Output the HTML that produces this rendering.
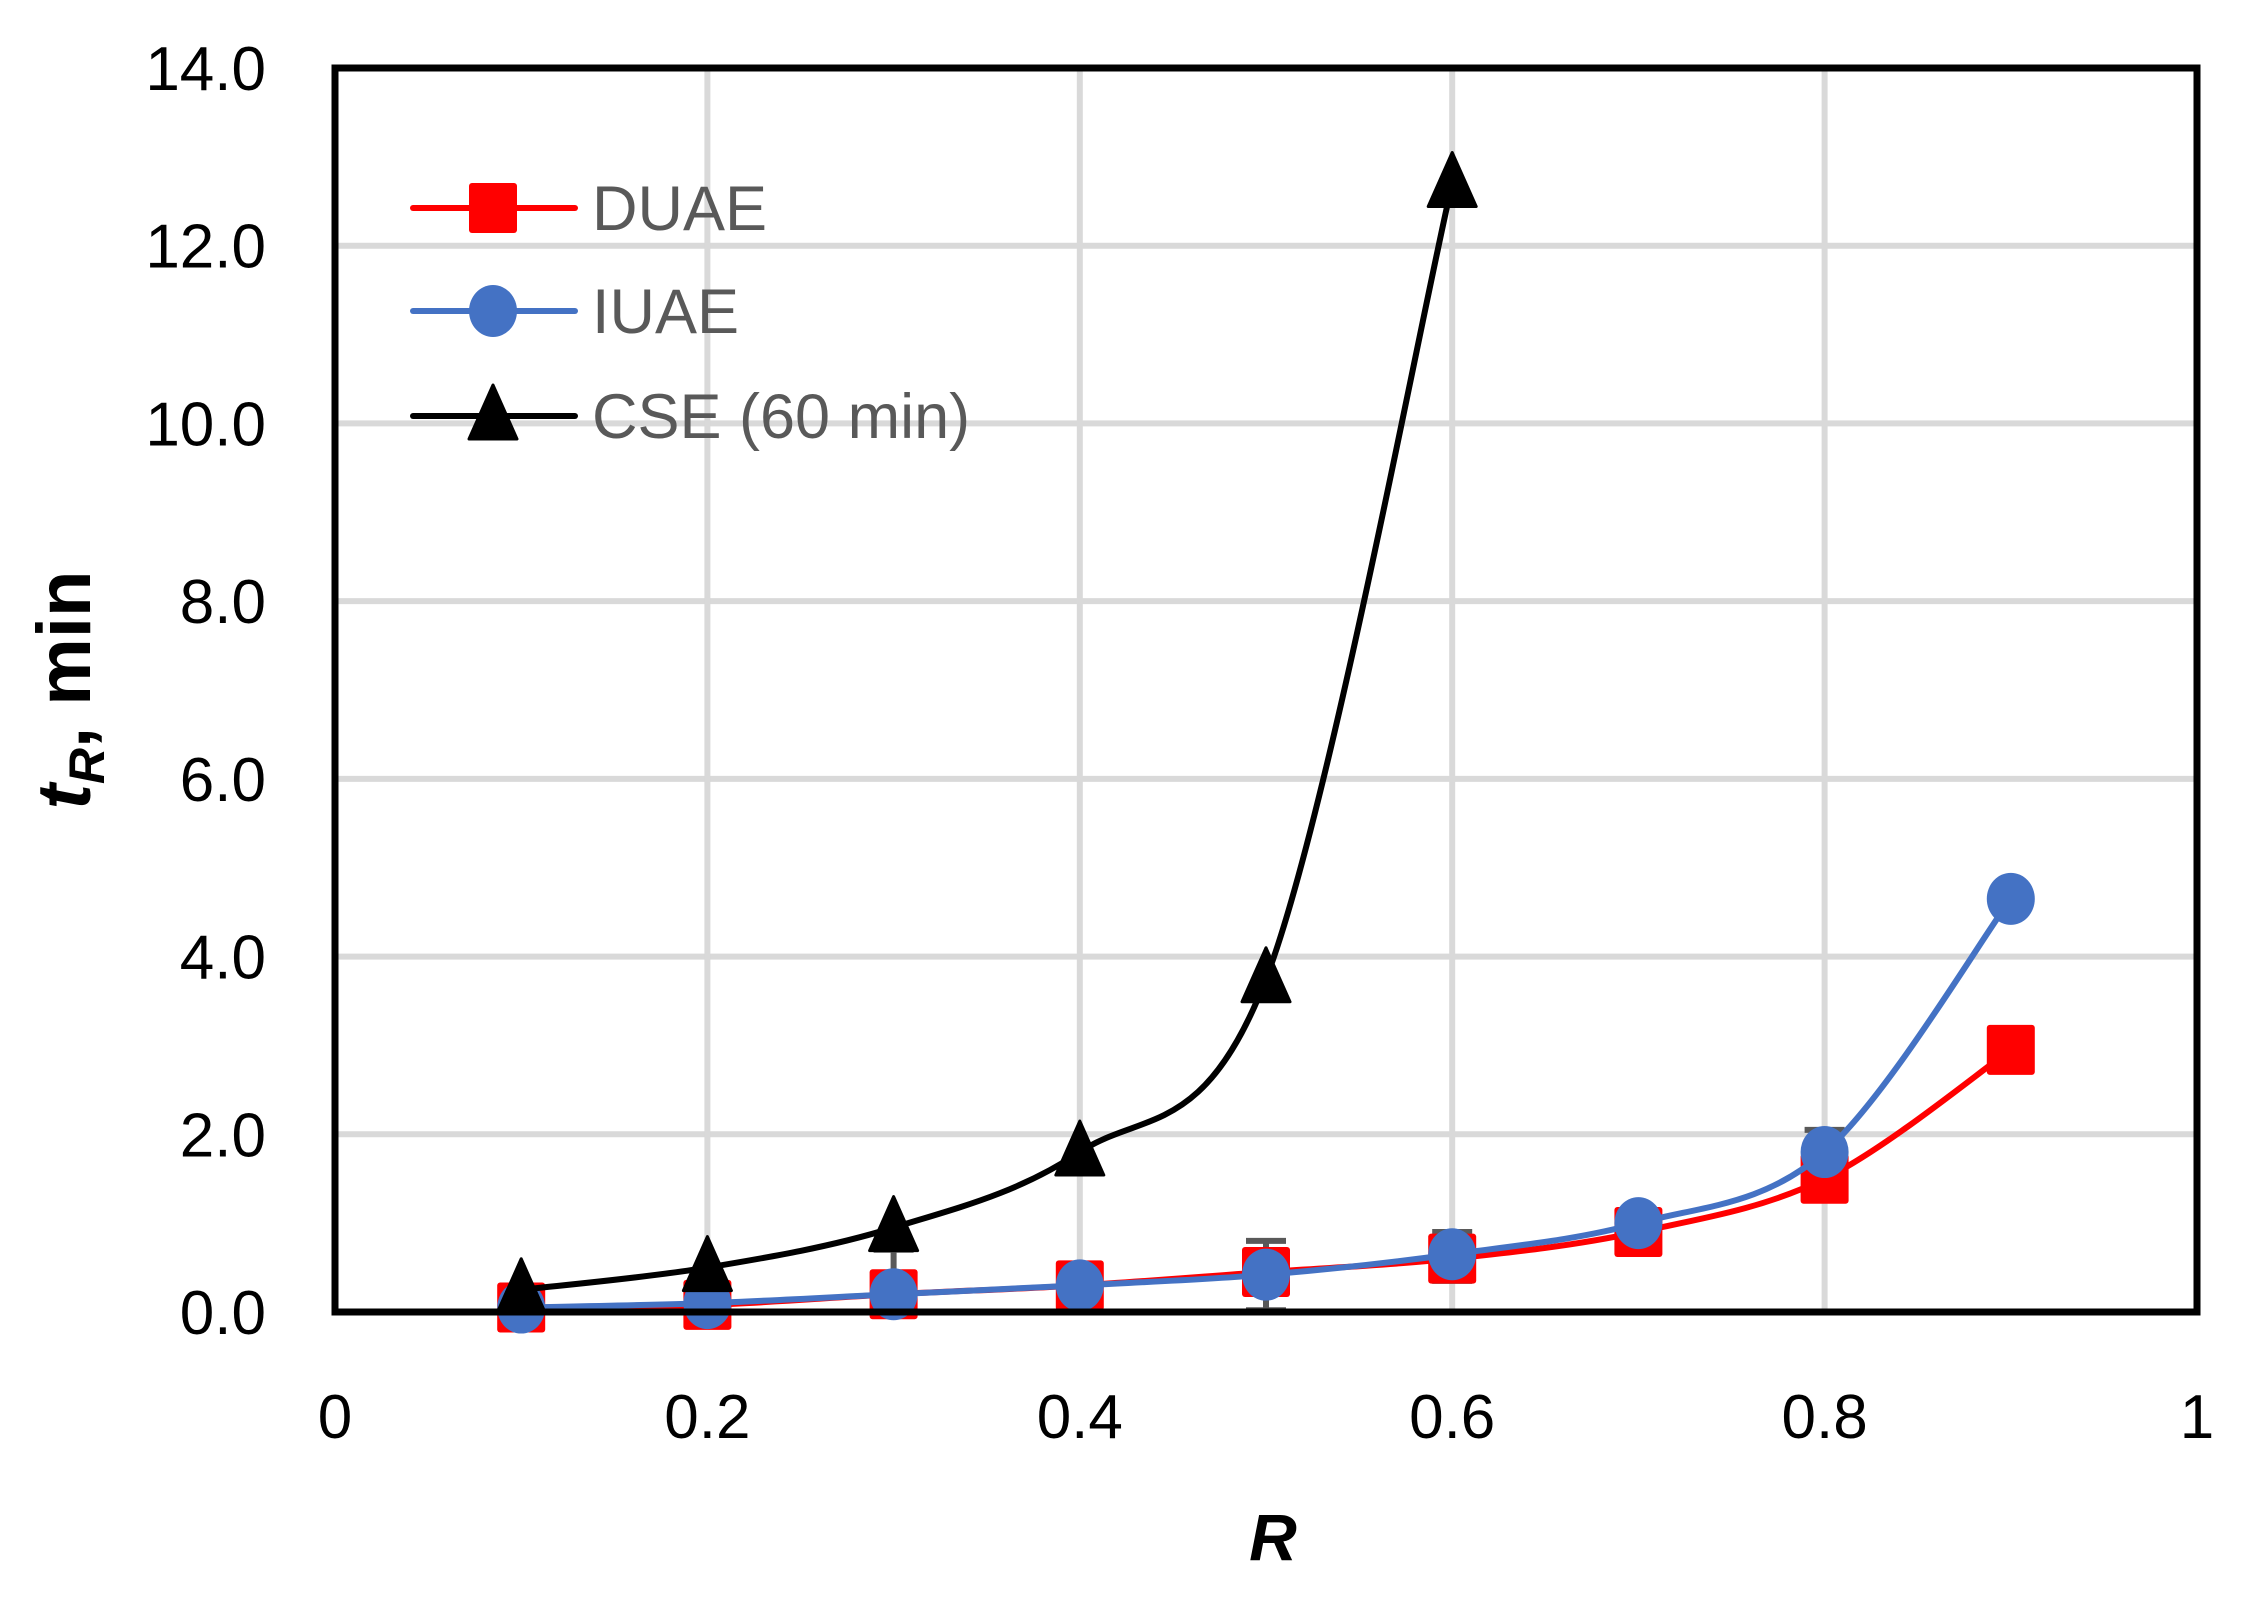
<!DOCTYPE html>
<html><head><meta charset="utf-8"><style>
html,body{margin:0;padding:0;background:#fff;}
svg{display:block;}
</style></head><body>
<svg id="c" width="2243" height="1617" xmlns="http://www.w3.org/2000/svg" font-family="Liberation Sans, sans-serif">
<rect width="2243" height="1617" fill="#fff"/>
<g id="grid" stroke="#d9d9d9" stroke-width="6"></g>
<g id="series"></g>
<rect x="335" y="68" width="1862" height="1244" fill="none" stroke="#000" stroke-width="7"/>
<g id="labels" font-size="62" fill="#000"></g>
<text x="1273" y="1560" font-size="66" font-weight="bold" font-style="italic" text-anchor="middle">R</text>
<text transform="translate(90,690) rotate(-90)" font-size="76" font-weight="bold" text-anchor="middle"><tspan font-style="italic">t</tspan><tspan font-style="italic" font-size="50" dy="14">R</tspan><tspan dy="-14">, min</tspan></text>
<g id="legend" font-size="63" fill="#595959"></g>
</svg>
<script>
const NS="http://www.w3.org/2000/svg";
const L=335,R=2197,T=68,B=1312;
const X=x=>L+x*(R-L), Y=y=>B-y*(B-T)/14;
function el(tag,a,p){const e=document.createElementNS(NS,tag);for(const k in a)e.setAttribute(k,a[k]);p.appendChild(e);return e;}
const grid=document.getElementById('grid'),lab=document.getElementById('labels');
for(let i=1;i<7;i++){el('line',{x1:L,x2:R,y1:Y(2*i),y2:Y(2*i)},grid);}
for(let i=1;i<5;i++){el('line',{x1:X(i*0.2),x2:X(i*0.2),y1:T,y2:B},grid);}
for(let i=0;i<=7;i++){const t=el('text',{x:266,y:Y(2*i)+22,'text-anchor':'end'},lab);t.textContent=(2*i).toFixed(1);}
['0','0.2','0.4','0.6','0.8','1'].forEach((s,i)=>{const t=el('text',{x:X(i*0.2),y:1438,'text-anchor':'middle'},lab);t.textContent=s;});
const S=document.getElementById('series');
function path(pts){let d=`M${pts[0][0]},${pts[0][1]}`;for(let i=0;i<pts.length-1;i++){const p0=pts[Math.max(i-1,0)],p1=pts[i],p2=pts[i+1],p3=pts[Math.min(i+2,pts.length-1)];const c1=[p1[0]+(p2[0]-p0[0])/6,p1[1]+(p2[1]-p0[1])/6],c2=[p2[0]-(p3[0]-p1[0])/6,p2[1]-(p3[1]-p1[1])/6];d+=` C${c1[0]},${c1[1]} ${c2[0]},${c2[1]} ${p2[0]},${p2[1]}`;}return d;}
const xs=[0.1,0.2,0.3,0.4,0.5,0.6,0.7,0.8,0.9];
const du=[0.05,0.08,0.2,0.3,0.45,0.6,0.9,1.5,2.95];
const iu=[0.05,0.1,0.2,0.3,0.42,0.65,1.0,1.8,4.65];
const cs=[0.25,0.5,0.95,1.8,3.75,12.7];
const eb=[[0.3,0.1,0.7],[0.4,0.15,0.5],[0.5,0.02,0.8],[0.6,0.35,0.9],[0.8,1.5,2.05]];
const eg=el('g',{stroke:'#595959','stroke-width':6},S);
eb.forEach(([x,a,b])=>{el('line',{x1:X(x),x2:X(x),y1:Y(a),y2:Y(b)},eg);el('line',{x1:X(x)-20,x2:X(x)+20,y1:Y(a),y2:Y(a)},eg);el('line',{x1:X(x)-20,x2:X(x)+20,y1:Y(b),y2:Y(b)},eg);});
function sq(x,y,g,c){el('rect',{x:x-24,y:y-25,width:48,height:50,fill:c,rx:3},g);}
function ci(x,y,g,c){el('ellipse',{cx:x,cy:y,rx:24,ry:26,fill:c},g);}
function tr(x,y,g,c){el('polygon',{points:`${x},${y-31} ${x+24},${y+23} ${x-24},${y+23}`,fill:c,'stroke':c,'stroke-width':3,'stroke-linejoin':'round'},g);}
const g1=el('g',{},S);
el('path',{d:path(xs.map((x,i)=>[X(x),Y(du[i])])),fill:'none',stroke:'#ff0000','stroke-width':6},g1);
xs.forEach((x,i)=>sq(X(x),Y(du[i]),g1,'#ff0000'));
const g2=el('g',{},S);
el('path',{d:path(xs.map((x,i)=>[X(x),Y(iu[i])])),fill:'none',stroke:'#4472c4','stroke-width':6},g2);
xs.forEach((x,i)=>ci(X(x),Y(iu[i]),g2,'#4472c4'));
const g3=el('g',{},S);
el('path',{d:path(cs.map((y,i)=>[X(xs[i]),Y(y)])),fill:'none',stroke:'#000','stroke-width':6},g3);
cs.forEach((y,i)=>tr(X(xs[i]),Y(y),g3,'#000'));
const lg=document.getElementById('legend');
[['DUAE','#ff0000',sq,208],['IUAE','#4472c4',ci,311],['CSE (60 min)','#000',tr,416]].forEach(([t,c,f,y])=>{
el('line',{x1:413,x2:575,y1:y,y2:y,stroke:c,'stroke-width':6,'stroke-linecap':'round'},lg);f(493,y,lg,c);
const tx=el('text',{x:592,y:y+22},lg);tx.textContent=t;});
</script>
</body></html>
